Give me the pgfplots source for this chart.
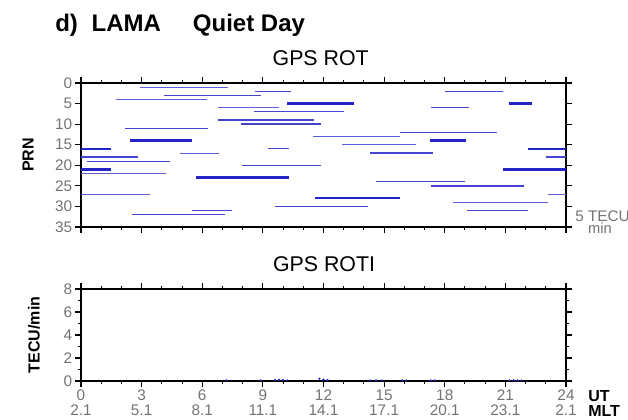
\documentclass[border=0pt]{standalone}
\usepackage{pgfplots}
\pgfplotsset{compat=1.18}
\usepackage{fontspec}
\setmainfont{Liberation Sans}
\definecolor{rotblue}{RGB}{35,35,200}
\definecolor{rotthin}{RGB}{95,95,215}
\definecolor{ticktxt}{RGB}{115,115,115}
\pgfplotsset{
  myaxis/.style={
    scale only axis, width=363.75pt, xmin=0, xmax=24,
    axis line style={line width=1.1pt},
    tick align=outside,
    major tick length=4.5pt, minor tick length=2.5pt,
    every tick/.style={black, line width=0.8pt},
    xtick={0,3,...,24}, minor xtick={0,1,...,24},
    tick label style={font=\fontsize{11.5}{11.25}\selectfont, text=ticktxt},
    yticklabel style={inner xsep=2pt},
    /pgf/number format/assume math mode=true,
    clip=false,
  },
  thin/.style={rotthin, line width=0.6pt},
  med/.style={rotblue!85, line width=1.0pt},
  thick/.style={rotblue, line width=1.8pt},
}
\begin{document}
\begin{tikzpicture}
\clip (0,0) rectangle (471pt,315pt);
\path[use as bounding box] (0,0) rectangle (471pt,315pt);
% titles
\node[inner sep=0pt, anchor=base west, font=\fontsize{18}{18}\selectfont\bfseries] at (41.25pt,291pt) {d)};
\node[inner sep=0pt, anchor=base west, font=\fontsize{18}{18}\selectfont\bfseries] at (68.5pt,291pt) {LAMA};
\node[inner sep=0pt, anchor=base west, font=\fontsize{18}{18}\selectfont\bfseries] at (144.5pt,291pt) {Quiet Day};
\node[anchor=base, font=\fontsize{16}{16}\selectfont] at (240.5pt,266pt) {GPS ROT};
\node[anchor=base, font=\fontsize{16}{16}\selectfont] at (243pt,111pt) {GPS ROTI};
\node[rotate=90, font=\fontsize{12}{12}\selectfont\bfseries] at (21pt,198.75pt) {PRN};
\node[rotate=90, font=\fontsize{12}{12}\selectfont\bfseries] at (25.5pt,63.75pt) {TECU/min};
\node[inner sep=0pt, anchor=base west, font=\fontsize{11.5}{11.5}\selectfont, text=ticktxt] at (431.25pt,149pt) {5 TECU/};
\node[inner sep=0pt, anchor=base, font=\fontsize{11}{11}\selectfont, text=ticktxt] at (450pt,139.5pt) {min};
\node[inner sep=0pt, anchor=base west, font=\fontsize{12}{12}\selectfont\bfseries] at (441pt,13.5pt) {UT};
\node[inner sep=0pt, anchor=base west, font=\fontsize{12}{12}\selectfont\bfseries] at (441pt,2.25pt) {MLT};

% ROT panel
\begin{axis}[myaxis, at={(60.75pt,144.75pt)}, anchor=south west, height=108pt,
  ymin=0, ymax=35, y dir=reverse, ytick={0,5,...,35}, xticklabels={}]
\addplot[thin] coordinates {(2.9,1) (7.25,1)};
\addplot[med] coordinates {(8.6,2) (10.4,2)};
\addplot[med] coordinates {(18.0,2) (20.9,2)};
\addplot[med] coordinates {(4.1,3) (8.9,3)};
\addplot[thin] coordinates {(1.75,4) (6.25,4)};
\addplot[thick] coordinates {(10.2,5) (13.5,5)};
\addplot[thick] coordinates {(21.2,5) (22.3,5)};
\addplot[thin] coordinates {(6.8,6) (9.8,6)};
\addplot[med] coordinates {(17.3,6) (19.2,6)};
\addplot[med] coordinates {(8.55,7) (13.0,7)};
\addplot[med] coordinates {(6.8,9) (11.55,9)};
\addplot[med] coordinates {(7.9,10) (11.9,10)};
\addplot[med] coordinates {(2.2,11) (6.3,11)};
\addplot[med] coordinates {(15.8,12) (20.6,12)};
\addplot[thin] coordinates {(11.5,13) (15.8,13)};
\addplot[thick] coordinates {(2.4,14) (5.5,14)};
\addplot[thick] coordinates {(17.25,14) (19.05,14)};
\addplot[thin] coordinates {(12.9,15) (16.6,15)};
\addplot[thick] coordinates {(0,16) (1.5,16)};
\addplot[med] coordinates {(9.25,16) (10.3,16)};
\addplot[thick] coordinates {(22.1,16) (24,16)};
\addplot[thin] coordinates {(4.9,17) (6.85,17)};
\addplot[med] coordinates {(14.3,17) (17.4,17)};
\addplot[med] coordinates {(0,18) (2.8,18)};
\addplot[med] coordinates {(23.0,18) (24,18)};
\addplot[med] coordinates {(0.3,19) (4.4,19)};
\addplot[med] coordinates {(7.95,20) (11.9,20)};
\addplot[thick] coordinates {(0,21) (1.5,21)};
\addplot[thick] coordinates {(20.9,21) (24,21)};
\addplot[thin] coordinates {(0,22) (4.2,22)};
\addplot[thick] coordinates {(5.7,23) (10.3,23)};
\addplot[med] coordinates {(14.6,24) (19.0,24)};
\addplot[med] coordinates {(17.3,25) (21.9,25)};
\addplot[thin] coordinates {(0,27) (3.4,27)};
\addplot[thin] coordinates {(23.1,27) (24,27)};
\addplot[thick] coordinates {(11.6,28) (15.8,28)};
\addplot[thin] coordinates {(18.4,29) (23.1,29)};
\addplot[med] coordinates {(9.6,30) (14.2,30)};
\addplot[med] coordinates {(5.5,31) (7.45,31)};
\addplot[med] coordinates {(19.1,31) (22.1,31)};
\addplot[med] coordinates {(2.5,32) (7.15,32)};
\end{axis}

% ROTI panel
\begin{axis}[myaxis, at={(60.75pt,29.25pt)}, anchor=south west, height=69pt,
  ymin=0, ymax=8, ytick={0,2,...,8}, minor ytick={1,3,5,7},
  xticklabel style={align=center, inner ysep=2pt},
  xticklabels={{0\\2.1},{3\\5.1},{6\\8.1},{9\\11.1},{12\\14.1},{15\\17.1},{18\\20.1},{21\\23.1},{24\\2.1}}]
\addplot[only marks, mark=*, mark size=0.6pt, rotblue] coordinates {
(7.2,0.05) (8.9,0.05) (9.6,0.08) (9.8,0.1) (10.0,0.08) (10.2,0.05)
(11.8,0.2) (12.0,0.12) (12.2,0.08) (14.3,0.05) (14.6,0.06) (14.9,0.05)
(15.9,0.06) (16.1,0.05) (17.3,0.04) (17.5,0.05) (21.2,0.05) (21.4,0.06)
(21.6,0.05) (21.8,0.04)};
\end{axis}
\end{tikzpicture}
\end{document}
